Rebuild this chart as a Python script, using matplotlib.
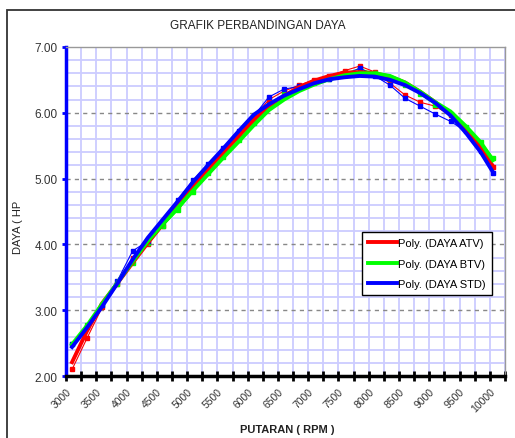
import matplotlib
matplotlib.use("Agg")
import matplotlib.pyplot as plt
from matplotlib.patches import Rectangle
from matplotlib.ticker import MultipleLocator

plt.rcParams['font.family'] = ['Liberation Sans', 'DejaVu Sans']

rpm = [3100, 3350, 3600, 3850, 4100, 4350, 4600, 4850, 5100, 5350, 5600, 5850, 6100,
       6350, 6600, 6850, 7100, 7350, 7600, 7850, 8100, 8350, 8600, 8850, 9100, 9350,
       9600, 9850, 10050]

# measured data (thin lines with markers)
daya_atv = [2.10, 2.58, 3.05, 3.40, 3.80, 4.00, 4.28, 4.58, 4.86, 5.13, 5.40, 5.66, 5.93,
            6.20, 6.33, 6.42, 6.50, 6.56, 6.64, 6.71, 6.62, 6.45, 6.27, 6.16, 6.10, 5.96,
            5.74, 5.47, 5.18]
daya_btv = [2.48, 2.78, 3.08, 3.40, 3.72, 4.02, 4.28, 4.52, 4.80, 5.08, 5.33, 5.58, 5.85,
            6.12, 6.28, 6.38, 6.45, 6.52, 6.60, 6.67, 6.60, 6.52, 6.42, 6.28, 6.12, 5.98,
            5.78, 5.56, 5.32]
daya_std = [2.48, 2.75, 3.08, 3.45, 3.90, 4.05, 4.35, 4.68, 4.98, 5.22, 5.47, 5.72, 5.95,
            6.24, 6.36, 6.40, 6.47, 6.52, 6.57, 6.68, 6.56, 6.42, 6.22, 6.10, 5.98, 5.87,
            5.72, 5.42, 5.08]

# polynomial trend lines (thick)
poly_atv = [2.21, 2.69, 3.11, 3.41, 3.72, 4.02, 4.31, 4.60, 4.89, 5.15, 5.39, 5.64, 5.89,
            6.10, 6.26, 6.39, 6.49, 6.56, 6.61, 6.62, 6.60, 6.55, 6.46, 6.32, 6.16, 5.98,
            5.76, 5.48, 5.19]
poly_btv = [2.48, 2.77, 3.10, 3.42, 3.74, 4.05, 4.31, 4.56, 4.82, 5.07, 5.32, 5.56, 5.81,
            6.04, 6.20, 6.33, 6.43, 6.51, 6.57, 6.60, 6.60, 6.56, 6.46, 6.32, 6.16, 6.02,
            5.80, 5.55, 5.28]
poly_std = [2.44, 2.74, 3.06, 3.41, 3.77, 4.10, 4.38, 4.66, 4.95, 5.21, 5.46, 5.72, 5.97,
            6.13, 6.26, 6.36, 6.45, 6.51, 6.54, 6.56, 6.55, 6.50, 6.42, 6.30, 6.15, 5.96,
            5.70, 5.40, 5.10]

legend_labels = ["Poly. (DAYA ATV)", "Poly. (DAYA BTV)", "Poly. (DAYA STD)"]
colors = ["#ff0000", "#00ff00", "#0000ff"]
xtick_vals = list(range(3000, 10001, 500))
ytick_vals = [2, 3, 4, 5, 6, 7]

fig = plt.figure(figsize=(5.15, 4.39), dpi=100)
ax = fig.add_axes([66/515, 1-377/439, (505-66)/515, (377-48)/439])

ax.set_xlim(3000, 10250)
ax.set_ylim(2, 7)

# grid
ax.xaxis.set_minor_locator(MultipleLocator(250))
ax.yaxis.set_minor_locator(MultipleLocator(0.2))
ax.grid(which='minor', color='#ccccff', linewidth=1.3, linestyle='-')
ax.grid(which='major', axis='x', color='#ccccff', linewidth=1.3, linestyle='-')
for yv in ytick_vals[1:-1]:
    ax.axhline(yv, color='#888888', linewidth=1.0, linestyle=(0, (3, 3)), zorder=1.5)
ax.set_axisbelow(True)

raws = [daya_atv, daya_btv, daya_std]
polys = [poly_atv, poly_btv, poly_std]
for raw, c in zip(raws, colors):
    ax.plot(rpm, raw, color=c, linewidth=0.8, marker='s', markersize=2.2, zorder=3)
for p, c, lab in zip(polys, colors, legend_labels):
    ax.plot(rpm, p, color=c, linewidth=2.8, label=lab, zorder=4)

ax.set_xticks(xtick_vals)
ax.set_xticklabels([str(v) for v in xtick_vals], rotation=45, ha='right',
                   rotation_mode='anchor', fontsize=7.5, color='#333333')
ax.set_yticks(ytick_vals)
ax.set_yticklabels([f"{v:.2f}" for v in ytick_vals], fontsize=8.5, color='#333333')

ax.tick_params(axis='x', which='both', direction='inout', length=7, width=2, color='black', pad=4)
ax.tick_params(axis='y', which='major', direction='out', length=3, width=2, color='#0000ff', pad=3)
ax.tick_params(axis='y', which='minor', length=0)

for s in ['top', 'right']:
    ax.spines[s].set_color('#999999')
    ax.spines[s].set_linewidth(1.0)
ax.spines['left'].set_color('#0000ff')
ax.spines['left'].set_linewidth(2.5)
ax.spines['bottom'].set_color('black')
ax.spines['bottom'].set_linewidth(2.5)

leg = ax.legend(loc='upper left', bbox_to_anchor=((362-66)/439, 1-(233-48)/329),
                fontsize=8, frameon=True, fancybox=False, framealpha=1,
                edgecolor='black', handlelength=2.6, handletextpad=0.1,
                borderpad=0.55, labelspacing=0.95, borderaxespad=0)
leg.get_frame().set_linewidth(1.0)

fig.text(0.5, 1-26/439, "GRAFIK PERBANDINGAN DAYA", ha='center', va='center',
         fontsize=8.5, color='#222222')
fig.text(287/515, 1-430/439, "PUTARAN ( RPM )", ha='center', va='center',
         fontsize=8, fontweight='bold', color='#222222')
fig.text(18/515, 1-227/439, "DAYA ( HP", ha='center', va='center', rotation=90,
         fontsize=8, color='#222222')

fig.patches.append(Rectangle((7/515, -0.2), 1.2, 1-11/439+0.2, transform=fig.transFigure,
                             fill=False, edgecolor='#333333', linewidth=1.3))

fig.savefig("out.png", dpi=100)
